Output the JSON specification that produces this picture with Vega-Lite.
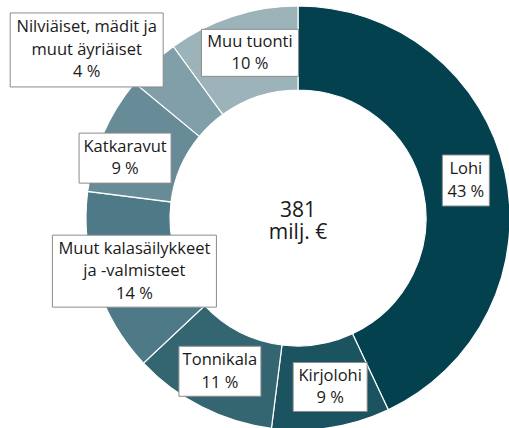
{
  "$schema": "https://vega.github.io/schema/vega-lite/v6.json",
  "width": 509,
  "height": 428,
  "autosize": {"type": "none"},
  "padding": 0,
  "background": "white",
  "config": {"view": {"stroke": null}},
  "data": {
    "values": [
      {"category": "Lohi", "pct": 43},
      {"category": "Kirjolohi", "pct": 9},
      {"category": "Tonnikala", "pct": 11},
      {"category": "Muut kalasäilykkeet\nja -valmisteet", "pct": 14},
      {"category": "Katkaravut", "pct": 9},
      {"category": "Nilviäiset, mädit ja\nmuut äyriäiset", "pct": 4},
      {"category": "Muu tuonti", "pct": 10}
    ]
  },
  "transform": [
    {"window": [{"op": "row_number", "as": "i"}]},
    {"window": [{"op": "sum", "field": "pct", "as": "cum"}], "frame": [null, 0]},
    {"joinaggregate": [{"op": "sum", "field": "pct", "as": "total"}]},
    {"calculate": "2*PI*(datum.cum - datum.pct/2)/datum.total + (datum.i == 6 ? -0.145 : datum.i == 5 ? -0.075 : datum.i == 7 ? 0.031 : datum.i == 2 ? -0.031 : 0)", "as": "ang"},
    {"calculate": "datum.i == 6 ? 270 : datum.i == 5 ? 183 : 172", "as": "lr"},
    {"calculate": "sin(datum.ang)*datum.lr", "as": "lx"},
    {"calculate": "cos(datum.ang)*datum.lr", "as": "ly"},
    {"calculate": "datum.category + '\\n' + datum.pct + ' %'", "as": "lbl"},
    {"calculate": "datum.ly + (length(split(datum.lbl, '\\n')) - 1) * 11.25", "as": "ty"}
  ],
  "encoding": {
    "x": {"type": "quantitative", "scale": {"domain": [-298, 211], "nice": false, "zero": false}, "axis": null},
    "y": {"type": "quantitative", "scale": {"domain": [-210, 218], "nice": false, "zero": false}, "axis": null}
  },
  "layer": [
    {
      "mark": {"type": "arc", "radius": 212, "radius2": 128, "stroke": "white", "strokeWidth": 1.2},
      "encoding": {
        "x": {"datum": 0, "type": "quantitative"},
        "y": {"datum": 0, "type": "quantitative"},
        "theta": {"field": "pct", "type": "quantitative", "stack": true},
        "order": {"field": "i", "type": "quantitative"},
        "color": {
          "field": "category",
          "type": "nominal",
          "legend": null,
          "scale": {
            "domain": ["Lohi", "Kirjolohi", "Tonnikala", "Muut kalasäilykkeet\nja -valmisteet", "Katkaravut", "Nilviäiset, mädit ja\nmuut äyriäiset", "Muu tuonti"],
            "range": ["#03414F", "#1B5361", "#346672", "#4E7986", "#678C97", "#809FA8", "#9BB3B9"]
          }
        }
      }
    },
    {
      "mark": {"type": "point", "filled": true, "fill": "white", "stroke": "#8c8c8c", "strokeWidth": 1, "opacity": 1, "size": 40000},
      "encoding": {
        "x": {"field": "lx", "type": "quantitative"},
        "y": {"field": "ly", "type": "quantitative"},
        "shape": {
          "field": "category",
          "type": "nominal",
          "legend": null,
          "scale": {
            "domain": ["Lohi", "Kirjolohi", "Tonnikala", "Muut kalasäilykkeet\nja -valmisteet", "Katkaravut", "Nilviäiset, mädit ja\nmuut äyriäiset", "Muu tuonti"],
            "range": [
              "M-0.235,-0.255H0.235V0.255H-0.235Z",
              "M-0.37,-0.245H0.37V0.245H-0.37Z",
              "M-0.41,-0.25H0.41V0.25H-0.41Z",
              "M-0.82,-0.36H0.82V0.36H-0.82Z",
              "M-0.46,-0.25H0.46V0.25H-0.46Z",
              "M-0.765,-0.37H0.765V0.37H-0.765Z",
              "M-0.485,-0.235H0.485V0.235H-0.485Z"
            ]
          }
        }
      }
    },
    {
      "mark": {"type": "text", "align": "center", "baseline": "middle", "font": "Open Sans", "fontSize": 16.5, "lineHeight": 22.5, "lineBreak": "\n", "color": "#1a1a1a"},
      "encoding": {
        "x": {"field": "lx", "type": "quantitative"},
        "y": {"field": "ty", "type": "quantitative"},
        "text": {"field": "lbl", "type": "nominal"}
      }
    },
    {
      "data": {"values": [{"total": 381, "unit": "milj. €"}]},
      "transform": [
        {"calculate": "datum.total + '\\n' + datum.unit", "as": "t"}
      ],
      "mark": {"type": "text", "align": "center", "baseline": "alphabetic", "dy": -1, "font": "Open Sans", "fontSize": 21, "lineHeight": 22, "lineBreak": "\n", "color": "#1a1a1a"},
      "encoding": {
        "x": {"datum": 0, "type": "quantitative"},
        "y": {"datum": 0, "type": "quantitative"},
        "text": {"field": "t", "type": "nominal"}
      }
    }
  ]
}
